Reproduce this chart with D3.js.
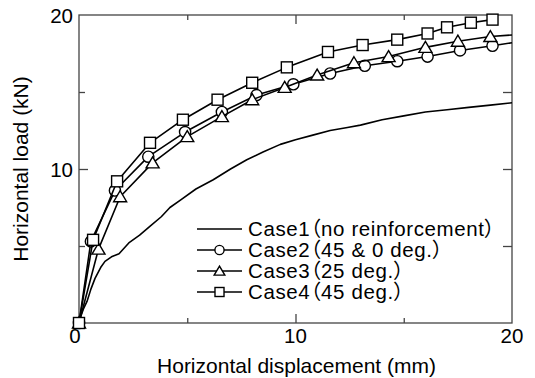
<!DOCTYPE html>
<html>
<head>
<meta charset="utf-8">
<script src="https://cdn.jsdelivr.net/npm/d3@7"></script>
<style>
  html, body { margin: 0; padding: 0; background: #fff; }
  svg { display: block; }
  text { font-family: "Liberation Sans", Arial, "Noto Sans CJK JP", sans-serif; fill: #000; }
  .legend-label { font-feature-settings: "palt" 1; letter-spacing: 0.6px; }
</style>
</head>
<body>
<div id="chart"></div>
<script>
  // Load-displacement data (mm, kN)
  var case1X = [0, 0.1, 0.2, 0.37, 0.55, 0.74, 1.0, 1.2, 1.5, 1.85, 2.3, 2.8, 3.3, 3.8, 4.2, 4.7, 5.4, 6.2, 7.0, 7.75, 8.5, 9.3, 10.0, 10.8, 11.6, 12.4, 13.0, 14.0, 15.0, 16.0, 17.0, 18.0, 19.0, 20.0];
  var case1Y = [0, 0.5, 0.9, 1.4, 2.2, 2.9, 3.6, 4.0, 4.3, 4.5, 5.2, 5.7, 6.3, 6.9, 7.5, 8.0, 8.7, 9.3, 10.0, 10.6, 11.1, 11.6, 11.9, 12.2, 12.5, 12.7, 12.85, 13.2, 13.45, 13.7, 13.85, 14.0, 14.15, 14.3];

  var case2X = [0, 0.55, 1.66, 3.2, 4.9, 6.6, 8.2, 9.9, 11.6, 13.2, 14.7, 16.1, 17.6, 19.1];
  var case2Y = [0, 5.3, 8.6, 10.8, 12.4, 13.7, 14.8, 15.5, 16.2, 16.7, 17.0, 17.3, 17.7, 18.0];
  var case2End = [20, 18.2];

  var case3X = [0, 0.9, 1.9, 3.4, 5.0, 6.6, 8.0, 9.5, 11.0, 12.7, 14.3, 16.0, 17.5, 19.0];
  var case3Y = [0, 4.8, 8.2, 10.4, 12.1, 13.4, 14.5, 15.3, 16.1, 16.9, 17.3, 17.9, 18.3, 18.6];
  var case3End = [20, 18.7];

  var case4X = [0, 0.65, 1.76, 3.28, 4.8, 6.4, 8.0, 9.6, 11.5, 13.1, 14.7, 16.1, 17.0, 18.1, 19.1];
  var case4Y = [0, 5.4, 9.2, 11.7, 13.2, 14.5, 15.6, 16.6, 17.6, 18.05, 18.4, 18.8, 19.2, 19.5, 19.7];

  var legendLabels = ['Case1（no reinforcement）', 'Case2（45 & 0 deg.）', 'Case3（25 deg.）', 'Case4（45 deg.）'];
  var majorTicks = [10];
  var minorTicks = [5, 15];
  var tickLabels = [10, 20];

  var W = 535, H = 378;
  var x = d3.scaleLinear().domain([0, 20]).range([79, 512]);
  var y = d3.scaleLinear().domain([0, 20]).range([323, 15]);

  var svg = d3.select('#chart').append('svg')
    .attr('width', W).attr('height', H);

  function zip(xs, ys) {
    return xs.map(function (v, i) { return [v, ys[i]]; });
  }

  var series = [
    { pts: zip(case1X, case1Y), marker: null },
    { pts: zip(case2X, case2Y), end: case2End, marker: 'circle' },
    { pts: zip(case3X, case3Y), end: case3End, marker: 'triangle' },
    { pts: zip(case4X, case4Y), marker: 'square' }
  ];

  // frame
  svg.append('rect')
    .attr('x', x(0)).attr('y', y(20))
    .attr('width', x(20) - x(0)).attr('height', y(0) - y(20))
    .attr('fill', 'none').attr('stroke', '#444').attr('stroke-width', 1.3);

  // inward ticks on all four sides
  function ticks(axisFn, scale, vals, size, tx, ty) {
    svg.append('g')
      .attr('transform', 'translate(' + tx + ',' + ty + ')')
      .call(axisFn(scale).tickValues(vals).tickSize(size).tickFormat(''))
      .call(function (g) {
        g.select('.domain').remove();
        g.selectAll('line').attr('stroke', '#444').attr('stroke-width', 1.3);
      });
  }
  ticks(d3.axisBottom, x, majorTicks, -9, 0, y(0));
  ticks(d3.axisBottom, x, minorTicks, -5, 0, y(0));
  ticks(d3.axisTop, x, majorTicks, -9, 0, y(20));
  ticks(d3.axisTop, x, minorTicks, -5, 0, y(20));
  ticks(d3.axisLeft, y, majorTicks, -9, x(0), 0);
  ticks(d3.axisLeft, y, minorTicks, -6, x(0), 0);
  ticks(d3.axisRight, y, majorTicks.concat(minorTicks), -9, x(20), 0);

  // tick labels
  var fs = 20.5;
  svg.append('text').attr('x', x(0) - 4).attr('y', y(0) + 20)
    .attr('text-anchor', 'middle').attr('font-size', fs).text('0');
  tickLabels.forEach(function (v) {
    svg.append('text').attr('x', x(v)).attr('y', y(0) + 20)
      .attr('text-anchor', 'middle').attr('font-size', fs).text(v);
    svg.append('text').attr('x', x(0) - 6).attr('y', y(v) + 7.5)
      .attr('text-anchor', 'end').attr('font-size', fs).text(v);
  });

  // axis titles
  svg.append('text').attr('x', (x(0) + x(20)) / 2 + 1).attr('y', 373)
    .attr('text-anchor', 'middle').attr('font-size', 21)
    .text('Horizontal displacement (mm)');
  svg.append('text')
    .attr('transform', 'translate(28,' + ((y(0) + y(20)) / 2) + ') rotate(-90)')
    .attr('text-anchor', 'middle').attr('font-size', 21)
    .text('Horizontal load (kN)');

  function drawMarker(g, type, cx, cy, k) {
    var m;
    if (type === 'circle') {
      m = g.append('circle').attr('cx', cx).attr('cy', cy).attr('r', 5.6 * k);
    } else if (type === 'triangle') {
      m = g.append('path').attr('d',
        'M' + cx + ',' + (cy - 6 * k) + 'L' + (cx + 6.5 * k) + ',' + (cy + 5 * k) +
        'L' + (cx - 6.5 * k) + ',' + (cy + 5 * k) + 'Z');
    } else if (type === 'square') {
      m = g.append('rect').attr('x', cx - 5.5 * k).attr('y', cy - 5.5 * k)
        .attr('width', 11 * k).attr('height', 11 * k);
    }
    if (m) m.attr('fill', '#fff').attr('stroke', '#000').attr('stroke-width', 1.4);
  }

  var line = d3.line().x(function (d) { return x(d[0]); }).y(function (d) { return y(d[1]); });

  series.forEach(function (s) {
    var g = svg.append('g');
    var linePts = s.end ? s.pts.concat([s.end]) : s.pts;
    g.append('path').attr('d', line(linePts))
      .attr('fill', 'none').attr('stroke', '#000').attr('stroke-width', 1.6)
      .attr('stroke-linejoin', 'round');
    if (s.marker) {
      s.pts.forEach(function (p) { drawMarker(g, s.marker, x(p[0]), y(p[1]), 1); });
    }
  });

  // legend
  var legendY = [229, 250, 271, 292];
  series.forEach(function (s, i) {
    var g = svg.append('g');
    g.append('line').attr('x1', 197).attr('x2', 242)
      .attr('y1', legendY[i]).attr('y2', legendY[i])
      .attr('stroke', '#000').attr('stroke-width', 1.4);
    if (s.marker) drawMarker(g, s.marker, 219.5, legendY[i], 0.82);
    g.append('text').attr('class', 'legend-label')
      .attr('x', 248).attr('y', legendY[i] + 7).attr('font-size', 20.5)
      .text(legendLabels[i]);
  });
</script>
</body>
</html>
